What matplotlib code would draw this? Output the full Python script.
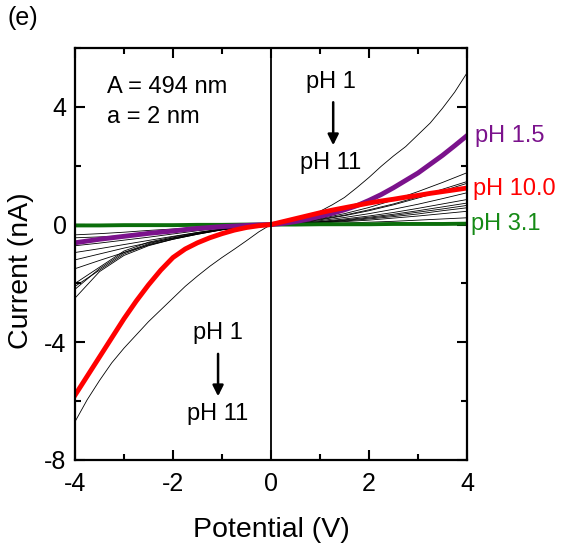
import matplotlib
matplotlib.use('Agg')
from matplotlib import pyplot as plt
from matplotlib.ticker import MultipleLocator

plt.rcParams['font.family'] = ['Liberation Sans', 'DejaVu Sans']
plt.rcParams['axes.unicode_minus'] = False

# coarse potential grid (V) for the thin traces
v = [-4, -3.5, -3, -2.5, -2, -1.5, -1, -0.5, 0, 0.5, 1, 1.5, 2, 2.5, 3, 3.5, 4]
# finer grid for the highlighted traces
vf = [-4, -3.75, -3.5, -3.25, -3, -2.75, -2.5, -2.25, -2, -1.75, -1.5, -1.25, -1, -0.75, -0.5, -0.25, 0,
      0.25, 0.5, 0.75, 1, 1.25, 1.5, 1.75, 2, 2.25, 2.5, 2.75, 3, 3.25, 3.5, 3.75, 4]

# outermost thin trace (pH 1), fine grid
ph1 = [-6.7, -5.95, -5.3, -4.7, -4.2, -3.75, -3.3, -2.9, -2.5, -2.1, -1.75, -1.42, -1.12, -0.84, -0.55, -0.25, 0,
       0.05, 0.15, 0.28, 0.45, 0.67, 0.92, 1.25, 1.6, 1.98, 2.33, 2.65, 3.05, 3.45, 3.95, 4.5, 5.15]

# other thin black traces (nA), coarse grid
black_traces = [
    [-0.35, -0.31, -0.26, -0.2, -0.15, -0.1, -0.06, -0.03, 0, 0.01, 0.03, 0.05, 0.08, 0.11, 0.15, 0.19, 0.23],
    [-0.45, -0.42, -0.38, -0.32, -0.25, -0.17, -0.1, -0.04, 0, 0.02, 0.05, 0.1, 0.15, 0.22, 0.29, 0.37, 0.45],
    [-0.72, -0.63, -0.53, -0.43, -0.32, -0.21, -0.12, -0.05, 0, 0.03, 0.07, 0.12, 0.19, 0.27, 0.36, 0.47, 0.57],
    [-0.95, -0.82, -0.68, -0.54, -0.4, -0.27, -0.15, -0.06, 0, 0.04, 0.09, 0.16, 0.25, 0.35, 0.47, 0.6, 0.73],
    [-1.2, -1.0, -0.8, -0.62, -0.46, -0.31, -0.17, -0.07, 0, 0.04, 0.1, 0.19, 0.29, 0.41, 0.55, 0.7, 0.85],
    [-1.5, -1.22, -0.95, -0.7, -0.5, -0.33, -0.18, -0.07, 0, 0.05, 0.13, 0.24, 0.37, 0.52, 0.69, 0.88, 1.08],
    [-2.0, -1.45, -0.9, -0.6, -0.42, -0.27, -0.15, -0.06, 0, 0.06, 0.16, 0.3, 0.47, 0.67, 0.9, 1.14, 1.4],
    [-2.2, -1.5, -0.95, -0.65, -0.45, -0.29, -0.16, -0.07, 0, 0.07, 0.18, 0.32, 0.5, 0.7, 0.94, 1.2, 1.46],
    [-2.1, -1.55, -1.0, -0.68, -0.48, -0.31, -0.17, -0.07, 0, 0.08, 0.2, 0.37, 0.58, 0.83, 1.12, 1.43, 1.76],
    [-2.5, -1.6, -1.05, -0.72, -0.5, -0.33, -0.18, -0.08, 0, 0.03, 0.08, 0.14, 0.22, 0.31, 0.42, 0.53, 0.65],
]

ph31 = [-0.03, -0.03, -0.02, -0.02, -0.02, -0.01, -0.01, 0, 0, 0, 0.01, 0.01, 0.01, 0.02, 0.02, 0.02, 0.03]
ph15 = [-0.62, -0.56, -0.5, -0.45, -0.4, -0.35, -0.3, -0.26, -0.22, -0.17, -0.13, -0.1, -0.07, -0.05, -0.03, -0.01, 0,
        0.04, 0.1, 0.18, 0.28, 0.38, 0.5, 0.64, 0.82, 1.02, 1.25, 1.5, 1.75, 2.05, 2.35, 2.68, 3.02]
ph100 = [-5.8, -5.15, -4.5, -3.85, -3.2, -2.6, -2.05, -1.55, -1.12, -0.83, -0.62, -0.45, -0.31, -0.19, -0.1, -0.04, 0,
         0.1, 0.2, 0.3, 0.4, 0.49, 0.57, 0.65, 0.73, 0.8, 0.86, 0.93, 0.99, 1.06, 1.12, 1.18, 1.24]

fig = plt.figure(figsize=(5.66, 5.54), dpi=100)
ax = fig.add_axes([0.1325, 0.1697, 0.6925, 0.7437])

ax.plot(vf, ph1, color='k', lw=0.6)
for tr in black_traces:
    ax.plot(v, tr, color='k', lw=0.6)
ax.plot(v, ph31, color='#0b6e0b', lw=2.8)
ax.plot(vf, ph15, color='#7b128c', lw=3.5)
ax.plot(vf, ph100, color='#ff0000', lw=3.5)
ax.axvline(0, color='k', lw=1.3)

ax.set_xlim(-4, 4)
ax.set_ylim(-8, 6)
ax.xaxis.set_major_locator(MultipleLocator(2))
ax.xaxis.set_minor_locator(MultipleLocator(1))
ax.yaxis.set_major_locator(MultipleLocator(4))
ax.yaxis.set_minor_locator(MultipleLocator(2))
ax.tick_params(which='both', direction='in', top=True, right=True, width=1.5, labelsize=18)
ax.tick_params(which='major', length=7)
ax.tick_params(which='minor', length=4)
ax.tick_params(axis='x', pad=9)
ax.tick_params(axis='y', pad=6)
for s in ax.spines.values():
    s.set_linewidth(1.6)

ax.set_xlabel('Potential (V)', fontsize=20.5, labelpad=15)
ax.set_ylabel('Current (nA)', fontsize=20.5)
ax.yaxis.set_label_coords(-0.105, 0.459)

ax.text(-3.35, 4.68, 'A = 494 nm', fontsize=17, va='center')
ax.text(-3.35, 3.66, 'a = 2 nm', fontsize=17, va='center')

ax.text(1.22, 4.85, 'pH 1', fontsize=17, ha='center', va='center')
ax.text(1.22, 2.1, 'pH 11', fontsize=17, ha='center', va='center')
ax.annotate('', xy=(1.27, 2.6), xytext=(1.27, 4.25),
            arrowprops=dict(arrowstyle='-|>', color='k', lw=1.8, mutation_scale=16))

ax.text(-1.08, -3.7, 'pH 1', fontsize=17, ha='center', va='center')
ax.text(-1.08, -6.44, 'pH 11', fontsize=17, ha='center', va='center')
ax.annotate('', xy=(-1.08, -5.93), xytext=(-1.08, -4.3),
            arrowprops=dict(arrowstyle='-|>', color='k', lw=1.8, mutation_scale=16))

ax.text(4.16, 3.0, 'pH 1.5', fontsize=17, color='#7b128c', va='center', clip_on=False)
ax.text(4.12, 1.22, 'pH 10.0', fontsize=17, color='#ff0000', va='center', clip_on=False)
ax.text(4.08, 0.03, 'pH 3.1', fontsize=17, color='#158a15', va='center', clip_on=False)

fig.text(0.014, 0.967, '(e)', fontsize=18, va='center')

fig.savefig('out.png', dpi=100)
